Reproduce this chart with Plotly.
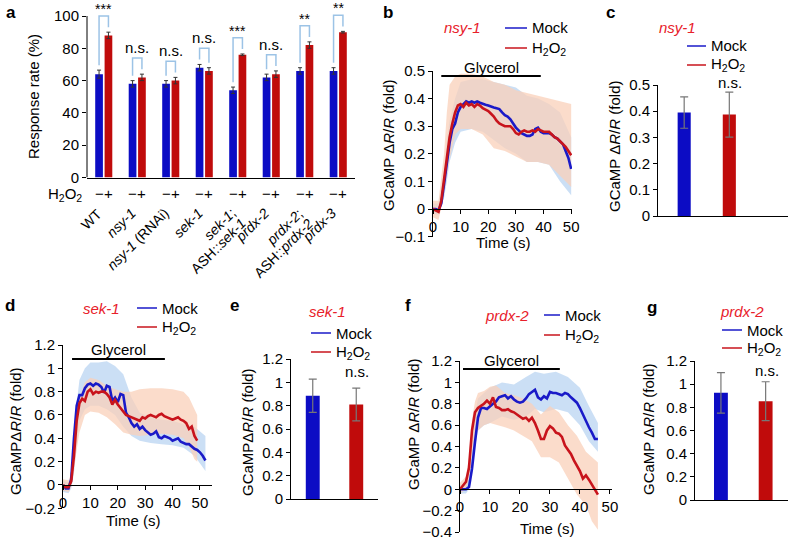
import plotly.graph_objects as go

W, H = 788, 540
FONT = "Liberation Sans, Arial, Helvetica, sans-serif"
BLUE = "#0c0cc4"
RED = "#c00b0b"
LBLUE = "#1a1ac8"
LRED = "#c8141c"
GENE = "#e8202a"
BAND_BLUE = "rgba(190,215,242,0.8)"
BAND_RED = "rgba(250,208,185,0.75)"
BRACKET = "#9cc3e6"

# ---------------- panel a data ----------------
a_labels = [["WT"], ["<i>nsy-1</i>"], ["<i>nsy-1</i> (RNAi)"], ["<i>sek-1</i>"],
            ["<i>sek-1</i>;", "ASH::<i>sek-1</i>"], ["<i>prdx-2</i>"],
            ["<i>prdx-2</i>;", "ASH::<i>prdx-2</i>"], ["<i>prdx-3</i>"]]
a_mock = [64, 58, 58, 68, 54, 62, 66, 66]
a_mock_err = [2.5, 2, 2, 2, 2, 2, 2, 2]
a_h2o2 = [88, 62, 60, 66, 76, 64, 82, 90]
a_h2o2_err = [2, 2, 2, 2, 0.5, 2, 2, 0.5]
a_sig = ["***", "n.s.", "n.s.", "n.s.", "***", "n.s.", "**", "**"]
a_yticks = [0, 20, 40, 60, 80, 100]

# ---------------- panel b data (nsy-1 traces) ----------------
b_t = list(range(51))
b_mock = [0.0, 0.0, -0.005, 0.02, 0.09, 0.17, 0.24, 0.29, 0.31, 0.35, 0.37, 0.38, 0.39, 0.385, 0.39,
          0.385, 0.39, 0.385, 0.38, 0.378, 0.375, 0.37, 0.368, 0.365, 0.362, 0.35, 0.34, 0.335, 0.325,
          0.31, 0.295, 0.285, 0.275, 0.27, 0.265, 0.265, 0.27, 0.29, 0.295, 0.28, 0.275, 0.275, 0.275,
          0.27, 0.26, 0.255, 0.245, 0.235, 0.21, 0.185, 0.145]
b_h2o2 = [0.0, -0.005, -0.01, 0.03, 0.11, 0.19, 0.26, 0.31, 0.35, 0.375, 0.38, 0.37, 0.385, 0.375,
          0.38, 0.37, 0.38, 0.375, 0.365, 0.36, 0.355, 0.345, 0.335, 0.32, 0.31, 0.305, 0.30, 0.30,
          0.30, 0.29, 0.275, 0.27, 0.28, 0.285, 0.28, 0.28, 0.285, 0.28, 0.29, 0.285, 0.28, 0.28,
          0.28, 0.27, 0.26, 0.255, 0.245, 0.235, 0.225, 0.21, 0.195]
b_band_t = [0, 2, 4, 5, 6, 8, 10, 14, 18, 22, 26, 30, 34, 38, 42, 46, 50]
b_h2o2_lo = [-0.03, -0.04, 0.05, 0.12, 0.18, 0.27, 0.29, 0.29, 0.27, 0.22, 0.21, 0.19, 0.17, 0.17, 0.16, 0.12, 0.08]
b_h2o2_hi = [0.03, 0.03, 0.20, 0.35, 0.45, 0.48, 0.49, 0.49, 0.48, 0.46, 0.45, 0.43, 0.42, 0.41, 0.40, 0.39, 0.38]
b_mock_lo = [-0.02, -0.02, 0.04, 0.10, 0.17, 0.24, 0.28, 0.29, 0.28, 0.25, 0.22, 0.20, 0.17, 0.17, 0.16, 0.10, 0.05]
b_mock_hi = [0.02, 0.02, 0.14, 0.25, 0.32, 0.40, 0.46, 0.47, 0.47, 0.46, 0.45, 0.44, 0.41, 0.40, 0.38, 0.35, 0.26]
b_glycerol = [3, 39]

# ---------------- panel c data ----------------
c_vals = [0.395, 0.387]
c_err = [0.06, 0.086]

# ---------------- panel d data (sek-1 traces) ----------------
d_t = list(range(53))
d_mock = [0.0, -0.03, -0.03, 0.05, 0.40, 0.68, 0.77, 0.77, 0.83, 0.86, 0.87, 0.85, 0.87, 0.86, 0.84,
          0.79, 0.85, 0.84, 0.72, 0.75, 0.71, 0.78, 0.77, 0.62, 0.58, 0.53, 0.50, 0.52, 0.48, 0.50,
          0.47, 0.45, 0.43, 0.44, 0.46, 0.41, 0.40, 0.42, 0.41, 0.40, 0.38, 0.39, 0.40, 0.37, 0.36,
          0.35, 0.35, 0.33, 0.31, 0.30, 0.28, 0.25, 0.21]
d_t_h2o2 = list(range(50))
d_h2o2 = [0.0, -0.02, -0.02, 0.03, 0.25, 0.55, 0.70, 0.74, 0.72, 0.80, 0.82, 0.78, 0.80, 0.79, 0.80,
          0.80, 0.78, 0.75, 0.69, 0.73, 0.69, 0.66, 0.64, 0.60, 0.59, 0.58, 0.57, 0.56, 0.55, 0.58,
          0.57, 0.59, 0.60, 0.59, 0.58, 0.60, 0.61, 0.59, 0.58, 0.57, 0.56, 0.57, 0.58, 0.56, 0.55,
          0.53, 0.48, 0.50, 0.42, 0.38]
d_mock_band_t = [0, 2, 3, 4, 5, 6, 8, 10, 13, 16, 19, 22, 25, 28, 32, 36, 40, 44, 48, 50, 52]
d_mock_lo = [-0.06, -0.07, -0.03, 0.10, 0.35, 0.55, 0.65, 0.68, 0.68, 0.65, 0.60, 0.50, 0.42, 0.38, 0.36, 0.35, 0.34, 0.32, 0.25, 0.18, 0.12]
d_mock_hi = [0.04, 0.02, 0.10, 0.35, 0.70, 0.90, 1.00, 1.05, 1.05, 1.06, 1.02, 0.95, 0.75, 0.62, 0.58, 0.56, 0.55, 0.52, 0.50, 0.46, 0.42]
d_h2o2_band_t = [0, 2, 3, 4, 5, 6, 8, 10, 13, 16, 19, 22, 25, 28, 32, 36, 40, 44, 46, 48, 49]
d_h2o2_lo = [-0.05, -0.06, -0.02, 0.15, 0.30, 0.45, 0.60, 0.63, 0.62, 0.58, 0.52, 0.45, 0.43, 0.42, 0.43, 0.44, 0.43, 0.40, 0.33, 0.22, 0.20]
d_h2o2_hi = [0.05, 0.04, 0.10, 0.40, 0.60, 0.75, 0.88, 0.92, 0.90, 0.85, 0.82, 0.80, 0.80, 0.82, 0.83, 0.83, 0.82, 0.80, 0.75, 0.65, 0.60]
d_glycerol = [3.3, 37.2]

# ---------------- panel e data ----------------
e_vals = [0.885, 0.81]
e_err = [0.143, 0.14]

# ---------------- panel f data (prdx-2 traces) ----------------
f_t = list(range(47))
f_mock = [0.0, 0.0, 0.0, 0.02, 0.19, 0.44, 0.67, 0.76, 0.76, 0.75, 0.78, 0.80, 0.82, 0.86, 0.87, 0.88,
          0.85, 0.87, 0.84, 0.82, 0.81, 0.82, 0.85, 0.89, 0.91, 0.93, 0.86, 0.84, 0.87, 0.85, 0.91,
          0.90, 0.90, 0.89, 0.88, 0.90, 0.89, 0.86, 0.83, 0.81, 0.76, 0.70, 0.63, 0.58, 0.53, 0.47, 0.47]
f_h2o2 = [0.0, 0.04, 0.07, 0.20, 0.55, 0.72, 0.76, 0.78, 0.80, 0.83, 0.80, 0.86, 0.77, 0.76, 0.74,
          0.74, 0.75, 0.73, 0.72, 0.70, 0.68, 0.66, 0.67, 0.64, 0.67, 0.62, 0.55, 0.47, 0.47, 0.55,
          0.59, 0.57, 0.53, 0.52, 0.49, 0.41, 0.37, 0.33, 0.27, 0.22, 0.17, 0.10, 0.13, 0.09, 0.04,
          0.0, -0.05]
f_mock_band_t = [0, 2, 3, 4, 5, 6, 8, 10, 14, 18, 22, 25, 28, 32, 36, 40, 43, 46]
f_mock_lo = [-0.04, -0.04, 0.0, 0.15, 0.40, 0.55, 0.60, 0.62, 0.68, 0.65, 0.68, 0.75, 0.72, 0.75, 0.72, 0.60, 0.45, 0.35]
f_mock_hi = [0.04, 0.05, 0.10, 0.35, 0.70, 0.85, 0.90, 0.95, 1.00, 0.98, 1.05, 1.10, 1.08, 1.10, 1.05, 0.95, 0.78, 0.62]
f_h2o2_band_t = [0, 2, 3, 4, 5, 6, 8, 10, 12, 15, 18, 21, 24, 27, 30, 33, 36, 39, 42, 44, 46]
f_h2o2_lo = [-0.04, 0.0, 0.10, 0.35, 0.50, 0.55, 0.60, 0.62, 0.60, 0.58, 0.55, 0.50, 0.45, 0.30, 0.30, 0.25, 0.10, -0.05, -0.15, -0.30, -0.38]
f_h2o2_hi = [0.06, 0.12, 0.30, 0.65, 0.82, 0.90, 0.92, 0.96, 0.97, 0.90, 0.88, 0.85, 0.80, 0.70, 0.78, 0.72, 0.60, 0.50, 0.35, 0.30, 0.25]
f_glycerol = [1, 33.3]

# ---------------- panel g data ----------------
g_vals = [0.925, 0.853]
g_err = [0.175, 0.168]

# =====================================================================
def dx(p0, p1):
    return [p0 / W, p1 / W]


def dy(pbot, ptop):
    return [1 - pbot / H, 1 - ptop / H]


def P(xp, yp):
    return xp / W, 1 - yp / H


fig = go.Figure()
annotations = []
shapes = []

BASEAX = dict(showgrid=False, zeroline=False, linecolor="black", linewidth=1,
              tickcolor="black", ticklen=4, tickwidth=1, automargin=False,
              ticklabeloverflow="allow",
              tickfont=dict(size=15, color="black", family=FONT), fixedrange=True)


def ann_px(text, xp, yp, size=15, color="black", xanchor="center", yanchor="middle",
           bold=False, angle=0):
    if bold:
        text = "<b>" + text + "</b>"
    x, y = P(xp, yp)
    annotations.append(dict(text=text, x=x, y=y, xref="paper", yref="paper", showarrow=False,
                            xanchor=xanchor, yanchor=yanchor, textangle=angle,
                            font=dict(size=size, color=color, family=FONT)))


def legend_px(x0, x1, y_mock, y_h2o2):
    for yy, col, txt in [(y_mock, LBLUE, "Mock"), (y_h2o2, LRED, "H<sub>2</sub>O<sub>2</sub>")]:
        xa, ya = P(x0, yy)
        xb, _ = P(x1, yy)
        shapes.append(dict(type="line", xref="paper", yref="paper", x0=xa, x1=xb, y0=ya, y1=ya,
                           line=dict(color=col, width=1.5)))
        ann_px(txt, x1 + 3, yy, xanchor="left")


# ---------------- panel a ----------------
BAR_W = 0.23
GAP = 0.05
xs = list(range(len(a_labels)))
fig.add_trace(go.Bar(x=xs, y=a_mock, width=BAR_W, offset=-GAP / 2 - BAR_W, marker_color=BLUE,
                     marker_line_width=0,
                     error_y=dict(type="data", array=a_mock_err, color="#333", thickness=1, width=2),
                     xaxis="x", yaxis="y", showlegend=False))
fig.add_trace(go.Bar(x=xs, y=a_h2o2, width=BAR_W, offset=GAP / 2, marker_color=RED,
                     marker_line_width=0,
                     error_y=dict(type="data", array=a_h2o2_err, color="#333", thickness=1, width=2),
                     xaxis="x", yaxis="y", showlegend=False))
cb = GAP / 2 + BAR_W / 2
for i in xs:
    tb = a_mock[i] + a_mock_err[i]
    tr = a_h2o2[i] + a_h2o2_err[i]
    top = max(tb, tr) + 10
    fig.add_trace(go.Scatter(x=[i - cb, i - cb, i + cb, i + cb], y=[tb + 3, top, top, tr + 3],
                             mode="lines", line=dict(color=BRACKET, width=1.5),
                             xaxis="x", yaxis="y", showlegend=False, hoverinfo="skip"))
    annotations.append(dict(text=a_sig[i], x=i, y=top, xref="x", yref="y", showarrow=False,
                            yanchor="bottom", yshift=0 if a_sig[i] == "n.s." else -3,
                            font=dict(size=15 if a_sig[i] == "n.s." else 14, family=FONT, color="black")))
    annotations.append(dict(text="\u2212", x=i - cb, y=0, xref="x", yref="y", showarrow=False,
                            yanchor="top", yshift=-5, font=dict(size=15, family=FONT, color="black")))
    annotations.append(dict(text="+", x=i + cb, y=0, xref="x", yref="y", showarrow=False,
                            yanchor="top", yshift=-5, font=dict(size=15, family=FONT, color="black")))
    # rotated category labels (one annotation per line, right-aligned ends)
    for k, part in enumerate(a_labels[i]):
        annotations.append(dict(text=part, x=i, y=0, xref="x", yref="y", showarrow=False,
                                textangle=-45, xanchor="right", yanchor="top",
                                xshift=4 + 10 * k, yshift=-25 - 10 * k,
                                font=dict(size=14, family=FONT, color="black")))
shapes.append(dict(type="line", xref="x domain", yref="y", x0=0, x1=0, y0=0, y1=a_yticks[-1],
                   line=dict(color="black", width=1)))
ann_px("H<sub>2</sub>O<sub>2</sub>", 84, 194, xanchor="right")
ann_px("Response rate (%)", 34, 97, angle=-90)

layout = dict(
    xaxis=dict(BASEAX, domain=dx(87, 355), range=[-0.5, 7.5], anchor="y", showline=True,
               ticks="", showticklabels=False),
    yaxis=dict(BASEAX, domain=dy(177.5, 3.1), range=[0, 108], anchor="x", showline=False,
               ticks="outside", tickvals=a_yticks),
)


# ---------------- time-course helpers ----------------
def band(t, lo, hi, color, xa, ya):
    fig.add_trace(go.Scatter(x=list(t) + list(t)[::-1], y=list(hi) + list(lo)[::-1], fill="toself",
                             fillcolor=color, line=dict(width=0), mode="lines",
                             xaxis=xa, yaxis=ya, showlegend=False, hoverinfo="skip"))


def line(t, v, color, xa, ya):
    fig.add_trace(go.Scatter(x=t, y=v, mode="lines", line=dict(color=color, width=2.6),
                             xaxis=xa, yaxis=ya, showlegend=False))


def glycerol(interval, level, xa, ya, shift):
    fig.add_trace(go.Scatter(x=interval, y=[level, level], mode="lines",
                             line=dict(color="black", width=2), xaxis=xa, yaxis=ya,
                             showlegend=False, hoverinfo="skip"))
    annotations.append(dict(text="Glycerol", x=sum(interval) / 2, y=level,
                            xref=xa, yref=ya, showarrow=False,
                            yanchor="bottom", yshift=shift,
                            font=dict(size=15, family=FONT, color="black")))


# ---------------- panel b ----------------
band(b_band_t, b_mock_lo, b_mock_hi, BAND_BLUE, "x2", "y2")
band(b_band_t, b_h2o2_lo, b_h2o2_hi, BAND_RED, "x2", "y2")
line(b_t, b_mock, LBLUE, "x2", "y2")
line(b_t, b_h2o2, LRED, "x2", "y2")
glycerol(b_glycerol, 0.482, "x2", "y2", -2)
b_ydom = dy(236.6, 71)
layout["xaxis2"] = dict(BASEAX, domain=dx(433, 572), range=[0, 50.3], anchor="free",
                        position=b_ydom[0] + (b_ydom[1] - b_ydom[0]) * (0.1 / 0.6),
                        showline=True, ticks="outside", tickvals=[0, 10, 20, 30, 40, 50])
layout["yaxis2"] = dict(BASEAX, domain=b_ydom, range=[-0.1, 0.5], anchor="x2", showline=True,
                        ticks="outside", tickvals=[-0.1, 0, 0.1, 0.2, 0.3, 0.4, 0.5],
                        ticktext=["\u22120.1", "0", "0.1", "0.2", "0.3", "0.4", "0.5"])
ann_px("<i>nsy-1</i>", 463, 28, color=GENE)
legend_px(505, 527, 28, 48)
ann_px("Time (s)", 503, 242)
ann_px("GCaMP \u0394<i>R</i>/<i>R</i> (fold)", 388, 146, angle=-90)

# ---------------- panel c ----------------
fig.add_trace(go.Bar(x=[0, 1], y=c_vals, width=0.29, marker_color=[BLUE, RED], marker_line_width=0,
                     error_y=dict(type="data", array=c_err, color="#777", thickness=1.2, width=4),
                     xaxis="x3", yaxis="y3", showlegend=False))
layout["xaxis3"] = dict(BASEAX, domain=dx(658, 788), range=[-0.58, 2.3], anchor="y3", showline=True,
                        ticks="", showticklabels=False)
layout["yaxis3"] = dict(BASEAX, domain=dy(216, 85), range=[0, 0.5], anchor="x3", showline=True,
                        ticks="outside", tickvals=[0, 0.1, 0.2, 0.3, 0.4, 0.5],
                        ticktext=["0", "0.1", "0.2", "0.3", "0.4", "0.5"])
ann_px("<i>nsy-1</i>", 677, 28, color=GENE)
legend_px(687, 706, 46, 65)
ann_px("n.s.", 730, 82)
ann_px("GCaMP \u0394<i>R</i>/<i>R</i> (fold)", 615, 147, angle=-90)

# ---------------- panel d ----------------
band(d_mock_band_t, d_mock_lo, d_mock_hi, BAND_BLUE, "x4", "y4")
band(d_h2o2_band_t, d_h2o2_lo, d_h2o2_hi, BAND_RED, "x4", "y4")
line(d_t, d_mock, LBLUE, "x4", "y4")
line(d_t_h2o2, d_h2o2, LRED, "x4", "y4")
glycerol(d_glycerol, 1.08, "x4", "y4", -1)
d_ydom = dy(508.3, 345)
layout["xaxis4"] = dict(BASEAX, domain=dx(63, 212), range=[0, 54.4], anchor="free",
                        position=d_ydom[0] + (d_ydom[1] - d_ydom[0]) * (0.2 / 1.4),
                        showline=True, ticks="outside", tickvals=[0, 10, 20, 30, 40, 50])
layout["yaxis4"] = dict(BASEAX, domain=d_ydom, range=[-0.2, 1.2], anchor="x4", showline=True,
                        ticks="outside", tickvals=[-0.2, 0, 0.2, 0.4, 0.6, 0.8, 1, 1.2],
                        ticktext=["\u22120.2", "0", "0.2", "0.4", "0.6", "0.8", "1", "1.2"])
ann_px("<i>sek-1</i>", 101, 308, color=GENE)
legend_px(137, 157, 308, 327)
ann_px("Time (s)", 133, 520)
ann_px("GCaMP\u0394<i>R</i>/<i>R</i> (fold)", 15, 431, angle=-90)

# ---------------- panel e ----------------
fig.add_trace(go.Bar(x=[0, 1], y=e_vals, width=0.32, marker_color=[BLUE, RED], marker_line_width=0,
                     error_y=dict(type="data", array=e_err, color="#777", thickness=1.2, width=4),
                     xaxis="x5", yaxis="y5", showlegend=False))
layout["xaxis5"] = dict(BASEAX, domain=dx(291, 378), range=[-0.5, 1.5], anchor="y5", showline=True,
                        ticks="", showticklabels=False)
layout["yaxis5"] = dict(BASEAX, domain=dy(499, 359), range=[0, 1.2], anchor="x5", showline=True,
                        ticks="outside", tickvals=[0, 0.2, 0.4, 0.6, 0.8, 1, 1.2],
                        ticktext=["0", "0.2", "0.4", "0.6", "0.8", "1", "1.2"])
ann_px("<i>sek-1</i>", 327, 312, color=GENE)
legend_px(311, 331, 333, 352)
ann_px("n.s.", 357, 371)
ann_px("GCaMP\u0394<i>R</i>/<i>R</i> (fold)", 247, 432, angle=-90)

# ---------------- panel f ----------------
band(f_mock_band_t, f_mock_lo, f_mock_hi, BAND_BLUE, "x6", "y6")
band(f_h2o2_band_t, f_h2o2_lo, f_h2o2_hi, BAND_RED, "x6", "y6")
line(f_t, f_mock, LBLUE, "x6", "y6")
line(f_t, f_h2o2, LRED, "x6", "y6")
glycerol(f_glycerol, 1.126, "x6", "y6", -2)
f_ydom = dy(532, 361)
layout["xaxis6"] = dict(BASEAX, domain=dx(460, 612), range=[0, 50.7], anchor="free",
                        position=f_ydom[0] + (f_ydom[1] - f_ydom[0]) * (0.4 / 1.6),
                        showline=True, ticks="outside", tickvals=[0, 10, 20, 30, 40, 50])
layout["yaxis6"] = dict(BASEAX, domain=f_ydom, range=[-0.4, 1.2], anchor="x6", showline=True,
                        ticks="outside", tickvals=[-0.4, -0.2, 0, 0.2, 0.4, 0.6, 0.8, 1, 1.2],
                        ticktext=["\u22120.4", "\u22120.2", "0", "0.2", "0.4", "0.6", "0.8", "1", "1.2"])
ann_px("<i>prdx-2</i>", 507, 315, color=GENE)
legend_px(544, 560, 315, 335)
ann_px("Time (s)", 547, 528)
ann_px("GCaMP \u0394<i>R</i>/<i>R</i> (fold)", 413, 425, angle=-90)

# ---------------- panel g ----------------
fig.add_trace(go.Bar(x=[0, 1], y=g_vals, width=0.31, marker_color=[BLUE, RED], marker_line_width=0,
                     error_y=dict(type="data", array=g_err, color="#777", thickness=1.2, width=4),
                     xaxis="x7", yaxis="y7", showlegend=False))
layout["xaxis7"] = dict(BASEAX, domain=dx(695, 788), range=[-0.58, 1.5], anchor="y7", showline=True,
                        ticks="", showticklabels=False)
layout["yaxis7"] = dict(BASEAX, domain=dy(500, 361), range=[0, 1.2], anchor="x7", showline=True,
                        ticks="outside", tickvals=[0, 0.2, 0.4, 0.6, 0.8, 1, 1.2],
                        ticktext=["0", "0.2", "0.4", "0.6", "0.8", "1", "1.2"])
ann_px("<i>prdx-2</i>", 742, 312, color=GENE)
legend_px(722, 742, 330, 348)
ann_px("n.s.", 767, 370)
ann_px("GCaMP \u0394<i>R</i>/<i>R</i> (fold)", 648, 430, angle=-90)

# ---------------- panel letters ----------------
for letter, xp, yp in [("a", 4, 12), ("b", 381, 12), ("c", 604, 12), ("d", 3, 305),
                       ("e", 228, 305), ("f", 403, 305), ("g", 645, 307)]:
    ann_px(letter, xp, yp, size=17, bold=True, xanchor="left")

fig.update_layout(
    width=W, height=H, margin=dict(l=0, r=0, t=0, b=0, autoexpand=False),
    paper_bgcolor="white", plot_bgcolor="white", barmode="overlay",
    font=dict(family=FONT, size=15, color="black"),
    annotations=annotations, shapes=shapes, **layout,
)
fig.write_html("out.html", config={"displayModeBar": False},
               post_script="document.body.style.margin='0px';document.body.style.overflow='hidden';")
